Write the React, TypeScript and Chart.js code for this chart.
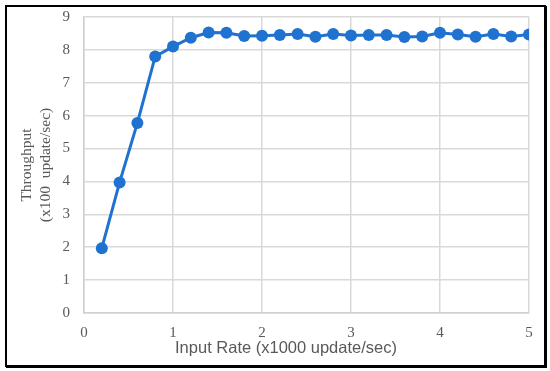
import React, { useEffect, useRef } from "react";
import { Chart, registerables } from "chart.js";

Chart.register(...registerables);

const inputRates = [0.2, 0.4, 0.6, 0.8, 1.0, 1.2, 1.4, 1.6, 1.8, 2.0, 2.2, 2.4, 2.6, 2.8, 3.0, 3.2, 3.4, 3.6, 3.8, 4.0, 4.2, 4.4, 4.6, 4.8, 5.0];
const throughput = [1.97, 3.97, 5.78, 7.8, 8.1, 8.37, 8.53, 8.52, 8.42, 8.43, 8.45, 8.48, 8.4, 8.48, 8.44, 8.45, 8.45, 8.39, 8.41, 8.52, 8.47, 8.4, 8.48, 8.41, 8.47];
const xTitle = "Input Rate (x1000 update/sec)";
const yTitle = ["Throughput", "(x100  update/sec)"];

const xTitlePlugin = {
  id: "xTitleOffset",
  afterDraw(chart: any) {
    const ctx = chart.ctx;
    ctx.save();
    ctx.font = "16.5px 'Liberation Sans'";
    ctx.fillStyle = "#595959";
    ctx.textAlign = "center";
    ctx.textBaseline = "middle";
    ctx.fillText(xTitle, 286, 348);
    ctx.restore();
  },
};

export default function App() {
  const ref = useRef<HTMLCanvasElement | null>(null);
  useEffect(() => {
    if (!ref.current) return;
    const chart = new Chart(ref.current, {
      type: "scatter",
      data: {
        datasets: [
          {
            data: inputRates.map((x, i) => ({ x, y: throughput[i] })),
            showLine: true,
            borderColor: "#1f72d0",
            backgroundColor: "#1f72d0",
            borderWidth: 3,
            pointRadius: 6,
            pointHoverRadius: 6,
            pointBorderWidth: 0,
          },
        ],
      },
      plugins: [xTitlePlugin],
      options: {
        responsive: false,
        animation: false,
        plugins: { legend: { display: false }, tooltip: { enabled: false } },
        layout: { padding: { top: 17, right: 21, left: 0, bottom: 0 } },
        scales: {
          x: {
            type: "linear",
            min: 0,
            max: 5,
            ticks: { stepSize: 1, color: "#595959", font: { family: "Liberation Serif", size: 15 }, padding: 11 },
            grid: { color: "#d9d9d9", lineWidth: 1.5, drawTicks: false },
            border: { color: "#d0d0d0", width: 1.5 },
            title: { display: false },
            afterFit: (s: any) => {
              s.height = 58;
              s.paddingLeft = 0;
              s.paddingRight = 0;
            },
          },
          y: {
            type: "linear",
            min: 0,
            max: 9,
            ticks: { stepSize: 1, color: "#595959", font: { family: "Liberation Serif", size: 15 }, padding: 14 },
            grid: { color: "#d9d9d9", lineWidth: 1.5, drawTicks: false },
            border: { color: "#d0d0d0", width: 1.5 },
            title: {
              display: true,
              text: yTitle,
              color: "#595959",
              font: { family: "Liberation Serif", size: 15.5, lineHeight: 1.18 },
              padding: { top: 18, bottom: 0 },
            },
            afterFit: (s: any) => {
              s.width = 84;
              s.paddingTop = 0;
              s.paddingBottom = 0;
            },
          },
        },
      },
    });
    return () => chart.destroy();
  }, []);
  return (
    <div style={{ position: "fixed", left: 0, top: 0, width: 550, height: 371, background: "#fff" }}>
      <canvas ref={ref} width={550} height={371} style={{ position: "absolute", left: 0, top: 0 }} />
      <div
        style={{
          position: "absolute",
          left: 5,
          top: 5,
          width: 541,
          height: 362,
          boxSizing: "border-box",
          border: "2px solid #000",
          boxShadow: "1px 1px 0 #000",
          pointerEvents: "none",
        }}
      />
    </div>
  );
}
